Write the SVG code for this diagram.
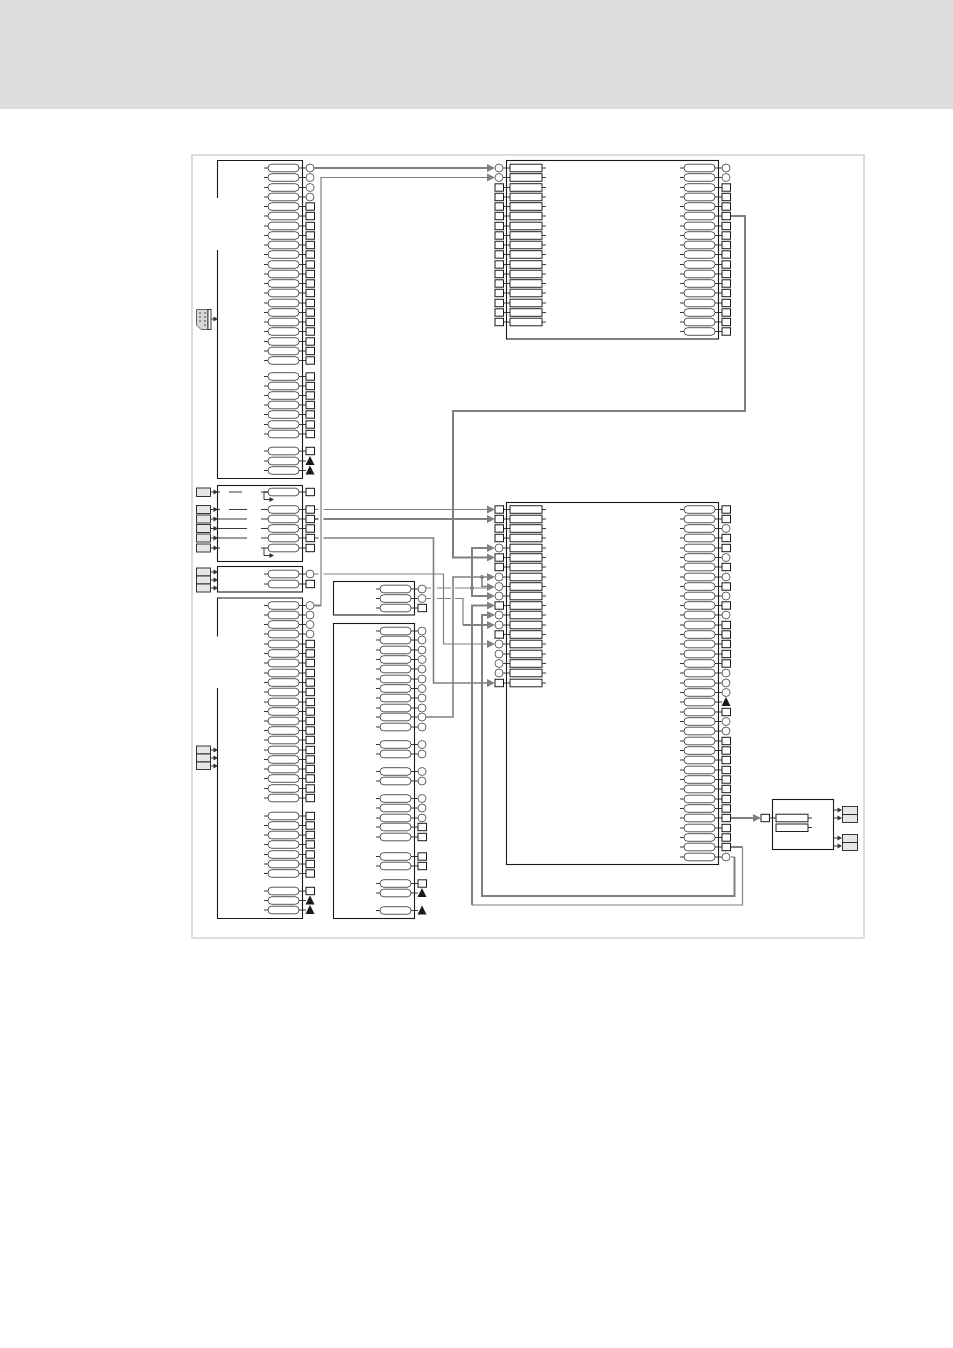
<svg xmlns="http://www.w3.org/2000/svg" width="953" height="1348" viewBox="0 0 953 1348">
<style>
.box{fill:none;stroke:#1a1a1a;stroke-width:1.1}
.st{stroke:#222;stroke-width:.9;fill:none}
.ov{fill:#fff;stroke:#444;stroke-width:.9}
.re{fill:#fff;stroke:#222;stroke-width:1}
.sq{fill:#fff;stroke:#1a1a1a;stroke-width:1}
.ci{fill:#fff;stroke:#555;stroke-width:.9}
.tr{fill:#1a1a1a}
.src{fill:#e6e6e6;stroke:#222;stroke-width:.9}
.c{fill:none;stroke:#808080;stroke-linejoin:miter}
.t1{stroke-width:1.2}.t2{stroke-width:2}.t3{stroke-width:1.6}
</style>
<defs>
<polygon id="ah" points="-8,-4 0,0 -8,4" fill="#808080"/>
<polygon id="sa" points="-4.5,-2.6 0,0 -4.5,2.6" fill="#333"/>
<g id="oval"><path class="st" d="M-4 0H0M31 0H38"/><rect class="ov" x="0" y="-3.8" width="31" height="7.6" rx="3.8"/></g>
<g id="rc"><use href="#oval"/><circle class="ci" cx="42" cy="0" r="4"/></g>
<g id="rs"><use href="#oval"/><rect class="sq" x="38" y="-3.7" width="8.5" height="7.4"/></g>
<g id="rt"><use href="#oval"/><polygon class="tr" points="42,-5 46.5,4 37.5,4"/></g>
<g id="bar"><path class="st" d="M-7 0H0M32 0H36"/><rect class="re" x="0" y="-3.8" width="32" height="7.6"/></g>
<g id="bc"><use href="#bar"/><circle class="ci" cx="-11" cy="0" r="4"/></g>
<g id="bs"><use href="#bar"/><rect class="sq" x="-15" y="-3.7" width="8.5" height="7.4"/></g>
</defs>
<rect x="0" y="0" width="953" height="109" fill="#dddddd"/>
<rect x="192" y="155" width="672" height="783" fill="#fff" stroke="#dddddd" stroke-width="2"/>

<g id="block-a">
<path class="box" d="M217.5 198V160.5H302.5V478.5H217.5V250"/>
<use href="#rc" x="268" y="168"/><use href="#rc" x="268" y="177.5"/><use href="#rc" x="268" y="187.5"/><use href="#rc" x="268" y="197"/>
<use href="#rs" x="268" y="206.5"/><use href="#rs" x="268" y="216"/><use href="#rs" x="268" y="226"/><use href="#rs" x="268" y="235.5"/><use href="#rs" x="268" y="245"/><use href="#rs" x="268" y="254.5"/><use href="#rs" x="268" y="264.5"/><use href="#rs" x="268" y="274"/><use href="#rs" x="268" y="283.5"/><use href="#rs" x="268" y="293"/><use href="#rs" x="268" y="303"/><use href="#rs" x="268" y="312.5"/><use href="#rs" x="268" y="322"/><use href="#rs" x="268" y="331.5"/><use href="#rs" x="268" y="341.5"/><use href="#rs" x="268" y="351"/><use href="#rs" x="268" y="360.5"/>
<use href="#rs" x="268" y="376.5"/><use href="#rs" x="268" y="386"/><use href="#rs" x="268" y="395.5"/><use href="#rs" x="268" y="405"/><use href="#rs" x="268" y="414.5"/><use href="#rs" x="268" y="424.5"/><use href="#rs" x="268" y="434"/>
<use href="#rs" x="268" y="451"/><use href="#rt" x="268" y="461"/><use href="#rt" x="268" y="470.5"/>
</g>
<g id="source-a">
<path d="M196.5 309.5H208V329.5H201L196.5 325Z" fill="#d8d8d8" stroke="#444" stroke-width=".8"/>
<rect x="208" y="309.5" width="3" height="20" fill="#fff" stroke="#222" stroke-width=".9"/>
<g fill="#777"><circle cx="200" cy="313" r="1"/><circle cx="205" cy="313" r="1"/><circle cx="200" cy="317" r="1"/><circle cx="205" cy="317" r="1"/><circle cx="200" cy="321" r="1"/><circle cx="205" cy="321" r="1"/><circle cx="205" cy="325" r="1"/></g>
<path class="st" d="M211 319H215"/><use href="#sa" x="218" y="319"/>
</g>

<g id="block-b">
<rect class="box" x="217.5" y="485.5" width="85" height="76"/>
<path class="st" d="M217 492H220M229 492H242M217 509.5H220M229 509.5H247M217 519H247M217 528.5H247M217 538H247M217 548H220M261 492H268M264 492V499.5H270M261 509.5H264M261 519H264M261 528.5H264M261 538H264M261 548H264M264 548V555.5H270"/>
<use href="#sa" x="274" y="499.5"/><use href="#sa" x="274" y="555.5"/>
<use href="#rs" x="268" y="492"/><use href="#rs" x="268" y="509.5"/><use href="#rs" x="268" y="519"/><use href="#rs" x="268" y="528.5"/><use href="#rs" x="268" y="538"/><use href="#rs" x="268" y="548"/>
</g>
<g id="source-b">
<rect class="src" x="196.5" y="488" width="14" height="8.5"/><rect class="src" x="196.5" y="505.5" width="14" height="8"/><rect class="src" x="196.5" y="515" width="14" height="8"/><rect class="src" x="196.5" y="524.5" width="14" height="8"/><rect class="src" x="196.5" y="534" width="14" height="8"/><rect class="src" x="196.5" y="544" width="14" height="8"/>
<path class="st" d="M211 492H215M211 509.5H215M211 519H215M211 528.5H215M211 538H215M211 548H215"/>
<use href="#sa" x="218" y="492"/><use href="#sa" x="218" y="509.5"/><use href="#sa" x="218" y="519"/><use href="#sa" x="218" y="528.5"/><use href="#sa" x="218" y="538"/><use href="#sa" x="218" y="548"/>
</g>

<g id="block-c">
<rect class="box" x="217.5" y="566.5" width="85" height="25.5"/>
<use href="#rc" x="268" y="574"/><use href="#rs" x="268" y="584"/>
</g>
<g id="source-c">
<rect class="src" x="196.5" y="568" width="14" height="8"/><rect class="src" x="196.5" y="576" width="14" height="8"/><rect class="src" x="196.5" y="584" width="14" height="8"/>
<path class="st" d="M211 572H215M211 580H215M211 588H215"/>
<use href="#sa" x="218" y="572"/><use href="#sa" x="218" y="580"/><use href="#sa" x="218" y="588"/>
</g>

<g id="block-d">
<path class="box" d="M217.5 636.5V598H302.5V918.5H217.5V688"/>
<use href="#rc" x="268" y="605.5"/><use href="#rc" x="268" y="615"/><use href="#rc" x="268" y="624.5"/><use href="#rc" x="268" y="634"/>
<use href="#rs" x="268" y="644"/><use href="#rs" x="268" y="653.5"/><use href="#rs" x="268" y="663"/><use href="#rs" x="268" y="673"/><use href="#rs" x="268" y="682.5"/><use href="#rs" x="268" y="692"/><use href="#rs" x="268" y="702"/><use href="#rs" x="268" y="711.5"/><use href="#rs" x="268" y="721"/><use href="#rs" x="268" y="730.5"/><use href="#rs" x="268" y="740"/><use href="#rs" x="268" y="750"/><use href="#rs" x="268" y="759.5"/><use href="#rs" x="268" y="769"/><use href="#rs" x="268" y="778.5"/><use href="#rs" x="268" y="788.5"/><use href="#rs" x="268" y="798"/>
<use href="#rs" x="268" y="816"/><use href="#rs" x="268" y="825.5"/><use href="#rs" x="268" y="835"/><use href="#rs" x="268" y="844.5"/><use href="#rs" x="268" y="854.5"/><use href="#rs" x="268" y="864"/><use href="#rs" x="268" y="873.5"/>
<use href="#rs" x="268" y="891"/><use href="#rt" x="268" y="900.5"/><use href="#rt" x="268" y="910"/>
</g>
<g id="source-d">
<rect class="src" x="196.5" y="746" width="14" height="8"/><rect class="src" x="196.5" y="754" width="14" height="8"/><rect class="src" x="196.5" y="762" width="14" height="7.5"/>
<path class="st" d="M211 750H215M211 758H215M211 766H215"/>
<use href="#sa" x="218" y="750"/><use href="#sa" x="218" y="758"/><use href="#sa" x="218" y="766"/>
</g>

<g id="block-e">
<rect class="box" x="333.5" y="581.5" width="81" height="33.5"/>
<use href="#rc" x="380" y="589"/><use href="#rc" x="380" y="598.5"/><use href="#rs" x="380" y="608"/>
</g>
<g id="block-f">
<rect class="box" x="333.5" y="623.5" width="81" height="295"/>
<use href="#rc" x="380" y="631"/><use href="#rc" x="380" y="640"/><use href="#rc" x="380" y="650"/><use href="#rc" x="380" y="659.5"/><use href="#rc" x="380" y="669"/><use href="#rc" x="380" y="679"/><use href="#rc" x="380" y="688.5"/><use href="#rc" x="380" y="698"/><use href="#rc" x="380" y="708"/><use href="#rc" x="380" y="717"/><use href="#rc" x="380" y="727"/>
<use href="#rc" x="380" y="744.5"/><use href="#rc" x="380" y="754"/><use href="#rc" x="380" y="771.5"/><use href="#rc" x="380" y="781"/>
<use href="#rc" x="380" y="798.5"/><use href="#rc" x="380" y="808"/><use href="#rc" x="380" y="818"/><use href="#rs" x="380" y="827"/><use href="#rs" x="380" y="837"/>
<use href="#rs" x="380" y="856.5"/><use href="#rs" x="380" y="866"/><use href="#rs" x="380" y="883.5"/><use href="#rt" x="380" y="893"/><use href="#rt" x="380" y="910.5"/>
</g>

<g id="block-top">
<rect class="box" x="506.5" y="160.5" width="212" height="178.5"/>
<use href="#bc" x="510" y="168"/><use href="#bc" x="510" y="177.5"/><use href="#bs" x="510" y="187.5"/><use href="#bs" x="510" y="197"/><use href="#bs" x="510" y="206.5"/><use href="#bs" x="510" y="216"/><use href="#bs" x="510" y="226"/><use href="#bs" x="510" y="235.5"/><use href="#bs" x="510" y="245"/><use href="#bs" x="510" y="254.5"/><use href="#bs" x="510" y="264.5"/><use href="#bs" x="510" y="274"/><use href="#bs" x="510" y="283.5"/><use href="#bs" x="510" y="293"/><use href="#bs" x="510" y="303"/><use href="#bs" x="510" y="312.5"/><use href="#bs" x="510" y="322"/>
<use href="#rc" x="684" y="168"/><use href="#rc" x="684" y="177.5"/><use href="#rs" x="684" y="187.5"/><use href="#rs" x="684" y="197"/><use href="#rs" x="684" y="206.5"/><use href="#rs" x="684" y="216"/><use href="#rs" x="684" y="226"/><use href="#rs" x="684" y="235.5"/><use href="#rs" x="684" y="245"/><use href="#rs" x="684" y="254.5"/><use href="#rs" x="684" y="264.5"/><use href="#rs" x="684" y="274"/><use href="#rs" x="684" y="283.5"/><use href="#rs" x="684" y="293"/><use href="#rs" x="684" y="303"/><use href="#rs" x="684" y="312.5"/><use href="#rs" x="684" y="322"/><use href="#rs" x="684" y="331.5"/>
</g>

<g id="block-main">
<rect class="box" x="506.5" y="502.5" width="212" height="362"/>
<use href="#bs" x="510" y="509.5"/><use href="#bs" x="510" y="519"/><use href="#bs" x="510" y="528.5"/><use href="#bs" x="510" y="538"/><use href="#bc" x="510" y="548"/><use href="#bs" x="510" y="557.5"/><use href="#bs" x="510" y="567"/><use href="#bc" x="510" y="577"/><use href="#bc" x="510" y="586.5"/><use href="#bc" x="510" y="596"/><use href="#bs" x="510" y="605.5"/><use href="#bc" x="510" y="615"/><use href="#bc" x="510" y="625"/><use href="#bs" x="510" y="634.5"/><use href="#bc" x="510" y="644"/><use href="#bc" x="510" y="654"/><use href="#bc" x="510" y="663.5"/><use href="#bc" x="510" y="673"/><use href="#bs" x="510" y="683"/>
<use href="#rs" x="684" y="509.5"/><use href="#rs" x="684" y="519"/><use href="#rc" x="684" y="528.5"/><use href="#rs" x="684" y="538"/><use href="#rs" x="684" y="548"/><use href="#rc" x="684" y="557.5"/><use href="#rs" x="684" y="567"/><use href="#rc" x="684" y="577"/><use href="#rs" x="684" y="586.5"/><use href="#rc" x="684" y="596"/><use href="#rs" x="684" y="605.5"/><use href="#rc" x="684" y="615"/><use href="#rs" x="684" y="625"/><use href="#rs" x="684" y="634.5"/><use href="#rs" x="684" y="644"/><use href="#rs" x="684" y="654"/><use href="#rs" x="684" y="663.5"/><use href="#rc" x="684" y="673"/><use href="#rc" x="684" y="683"/><use href="#rc" x="684" y="692.5"/><use href="#rt" x="684" y="702"/><use href="#rs" x="684" y="712"/><use href="#rc" x="684" y="721.5"/><use href="#rc" x="684" y="731"/><use href="#rs" x="684" y="741"/><use href="#rs" x="684" y="750.5"/><use href="#rs" x="684" y="760"/><use href="#rs" x="684" y="770"/><use href="#rs" x="684" y="779.5"/><use href="#rs" x="684" y="789"/><use href="#rs" x="684" y="799"/><use href="#rs" x="684" y="808.5"/><use href="#rs" x="684" y="818"/><use href="#rs" x="684" y="828"/><use href="#rs" x="684" y="837.5"/><use href="#rs" x="684" y="847"/><use href="#rc" x="684" y="857"/>
</g>

<g id="block-out">
<rect class="box" x="772.5" y="799.5" width="61" height="50"/>
<use href="#bs" x="776" y="818"/>
<path class="st" d="M808 827.5H812"/><rect class="re" x="776" y="824" width="32" height="7.5"/>
<rect class="src" x="842.5" y="806.5" width="15" height="8"/><rect class="src" x="842.5" y="814.5" width="15" height="8"/><rect class="src" x="842.5" y="834.5" width="15" height="8"/><rect class="src" x="842.5" y="842.5" width="15" height="8"/>
<path class="st" d="M833 810H838M833 818H838M833 838H838M833 846H838"/>
<use href="#sa" x="842" y="810"/><use href="#sa" x="842" y="818"/><use href="#sa" x="842" y="838"/><use href="#sa" x="842" y="846"/>
</g>

<g id="connectors">
<path class="c t2" d="M314 168H490"/><use href="#ah" x="495" y="168"/>
<path class="c t2" d="M731 216H745V411H453V557.5H490"/><use href="#ah" x="495" y="557.5"/>
<path class="c t1" d="M315 509.5H490"/><use href="#ah" x="495" y="509.5"/>
<path class="c t2" d="M315 519H490"/><use href="#ah" x="495" y="519"/>
<path class="c t3" d="M315 538H433.5V683H490"/><use href="#ah" x="495" y="683"/>
<path class="c t1" d="M314 574H443.5V644H490"/><use href="#ah" x="495" y="644"/>
<path d="M321 500V580" fill="none" stroke="#fff" stroke-width="5"/>
<path class="c t2" d="M314 605.5H321"/>
<path class="c t1" d="M321 606V177.5H490"/><use href="#ah" x="495" y="177.5"/>
<path class="c t1" d="M426 588H431M437 588H451M455 588H490"/><use href="#ah" x="495" y="587"/>
<path class="c t1" d="M426 598.5H431M437 598.5H451M455 598.5H463V625"/>
<path class="c t2" d="M463 625H490"/><use href="#ah" x="495" y="625"/>
<path class="c t3" d="M426 717H453V577H490"/><use href="#ah" x="495" y="577"/>
<path class="c t2" d="M490 548H472V596H490"/><use href="#ah" x="495" y="548"/><use href="#ah" x="495" y="596"/>
<circle cx="472" cy="588" r="2" fill="#808080"/>
<path class="c t3" d="M482 577V586.5H490"/><circle cx="482" cy="577" r="2" fill="#808080"/>
<path class="c t2" d="M490 605.5H472V905"/><use href="#ah" x="495" y="605.5"/>
<path class="c t2" d="M731 847H742.5"/>
<path class="c t1" d="M742.5 847V905H472"/>
<path class="c t1" d="M731 857H734.5"/>
<path class="c t2" d="M734.5 857V896H482V615H490"/><use href="#ah" x="495" y="615"/>
<path class="c t2" d="M731 818H755"/><use href="#ah" x="761" y="818"/>
</g>
</svg>
